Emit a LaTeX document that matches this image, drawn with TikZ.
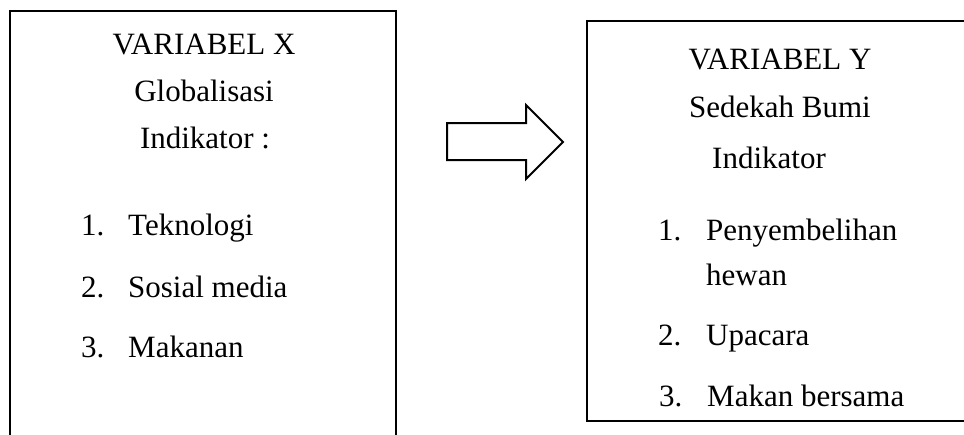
\documentclass[tikz,border=0pt]{standalone}
\usepackage{fontspec}
\setmainfont{Liberation Serif}
\begin{document}
\begin{tikzpicture}[x=1pt,y=-1pt,
  frame/.style={draw=black,line width=2pt},
  txt/.style={inner sep=0pt,anchor=base,font=\fontsize{31}{37}\selectfont},
  num/.style={txt,anchor=base west},
  item/.style={txt,anchor=base west}]
\clip (0,0) rectangle (964,434);
\fill[white] (0,0) rectangle (964,434);

% left frame, open at the bottom
\coordinate (xbl) at (10,450);
\coordinate (xtl) at (10,11);
\coordinate (xtr) at (396,11);
\coordinate (xbr) at (396,450);
\draw[frame] (xbl) -- (xtl) -- (xtr) -- (xbr);

% right frame, running past the right edge
\coordinate (ytr) at (980,21);
\coordinate (ytl) at (587,21);
\coordinate (ybl) at (587,421);
\coordinate (ybr) at (980,421);
\draw[frame] (ytr) -- (ytl) -- (ybl) -- (ybr);

% block arrow between the frames
\draw[line width=2pt,line join=miter]
  (447,123) -- (526,123) -- (526,105) -- (563,142) -- (526,179)
  -- (526,160) -- (447,160) -- cycle;

% variable X
\node[txt] (xt) at (204,54) {VARIABEL X};
\node[txt] (xg) at (204,101) {Globalisasi};
\node[txt] (xi) at (205,148) {Indikator :};
\node[num] (xn1) at (81,235) {1.};
\node[item] (xa) at (128,235) {Teknologi};
\node[num] (xn2) at (81,297) {2.};
\node[item] (xb) at (128,297) {Sosial media};
\node[num] (xn3) at (81,357) {3.};
\node[item] (xc) at (128,357) {Makanan};

% variable Y
\node[txt] (yt) at (780,69) {VARIABEL Y};
\node[txt] (yg) at (780,117) {Sedekah Bumi};
\node[txt] (yi) at (769,168) {Indikator};
\node[num] (yn1) at (658,240) {1.};
\node[item] (ya) at (706,240) {Penyembelihan};
\node[item] (ya2) at (706,285) {hewan};
\node[num] (yn2) at (658,345) {2.};
\node[item] (yb) at (706,345) {Upacara};
\node[num] (yn3) at (659,406) {3.};
\node[item] (yc) at (707,406) {Makan bersama};
\end{tikzpicture}
\end{document}
